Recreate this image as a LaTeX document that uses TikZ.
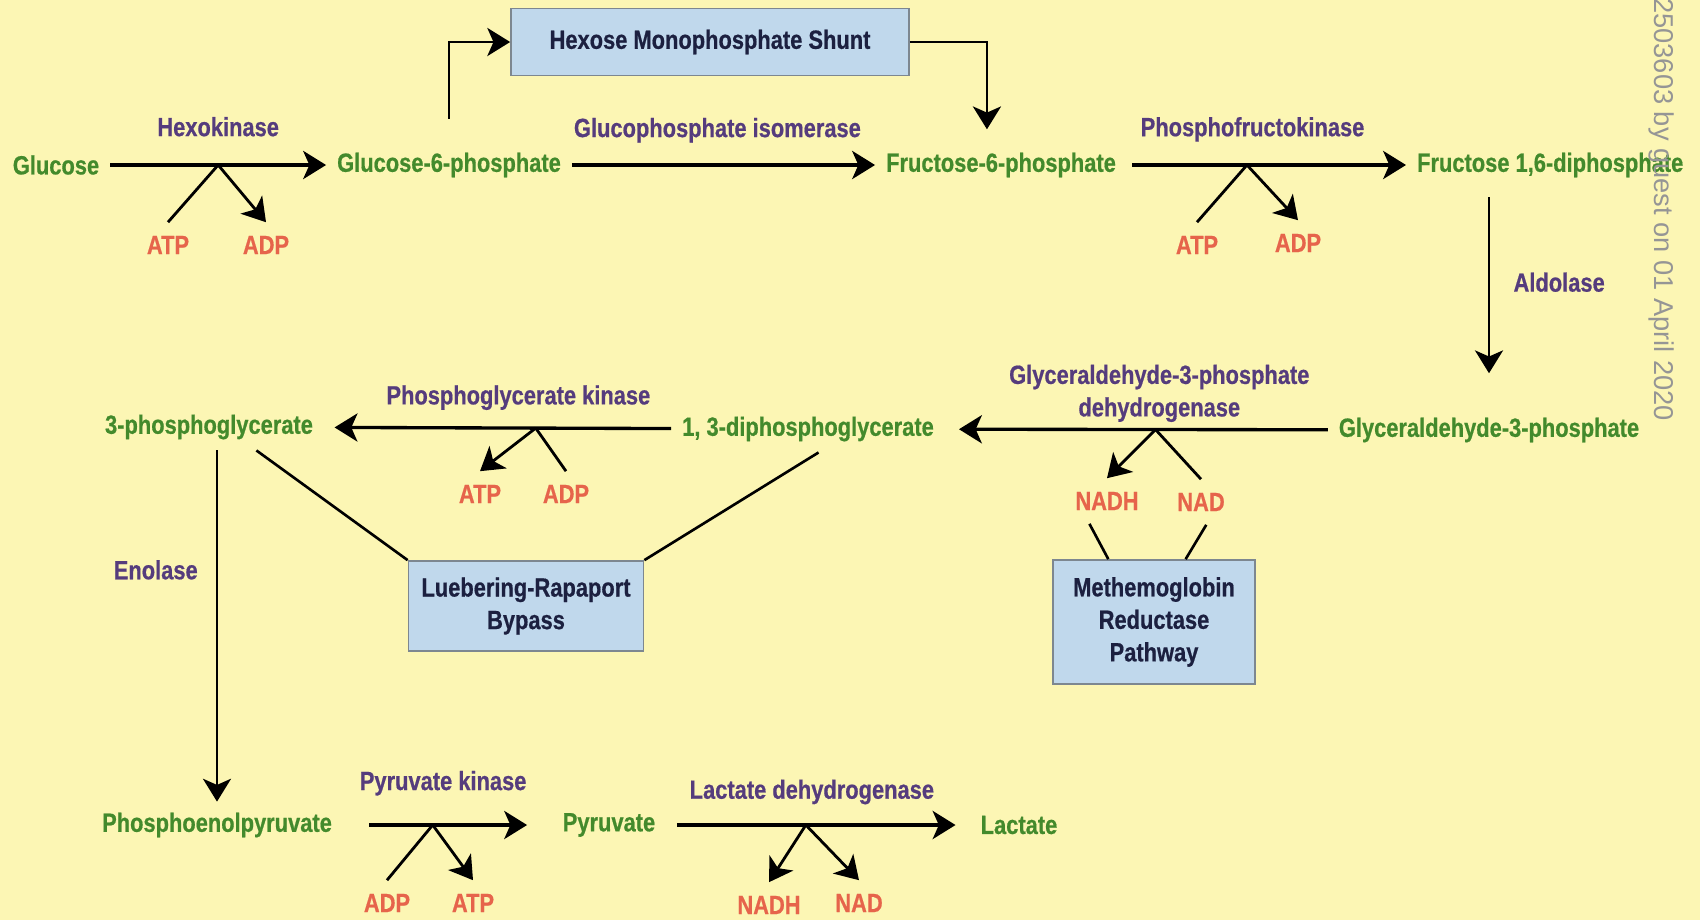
\documentclass[tikz,border=0pt]{standalone}
\usepackage{fontspec}
\setmainfont{Liberation Sans}[FakeStretch=0.83,BoldFeatures={FakeBold=0.6}]
\newfontfamily\stampfont{Liberation Sans}
\usepackage{xcolor}
\usetikzlibrary{arrows.meta}
\definecolor{paper}{HTML}{FCF6B4}
\definecolor{metgreen}{HTML}{438A2C}
\definecolor{enzpurple}{HTML}{553C7D}
\definecolor{cofred}{HTML}{E6644B}
\definecolor{boxblue}{HTML}{C0D8EC}
\definecolor{boxedge}{HTML}{7D8790}
\definecolor{boxtext}{HTML}{1C2040}
\definecolor{stampgray}{HTML}{959595}

\begin{document}
\begin{tikzpicture}[x=0.02cm,y=-0.02cm,>={Stealth[length=13pt,width=16pt,inset=3.5pt]},
	met/.style={text=metgreen,font=\fontsize{15}{18.5}\selectfont\bfseries,inner sep=3.33pt,outer sep=3pt},
	enz/.style={text=enzpurple,font=\fontsize{15}{18.5}\selectfont\bfseries,align=center},
	cof/.style={text=cofred,font=\fontsize{15}{18.5}\selectfont\bfseries,outer sep=4.5pt},
	pathbox/.style={draw=boxedge,line width=1pt,fill=boxblue,text=boxtext,align=center,font=\fontsize{15}{18.5}\selectfont\bfseries},
	rxn/.style={->,line width=1.9pt},
	side/.style={line width=1.6pt},
	vert/.style={line width=1.3pt},
	link/.style={line width=1.5pt},
	stamp/.style={text=stampgray,font=\stampfont\fontsize{15.5}{18}\selectfont,rotate=-90,anchor=west,inner sep=0pt}]
	\useasboundingbox (0,0) rectangle (1700,920);
	\fill[paper] (0,0) rectangle (1700,920);

	\node[met] (glc) at (56,165) {Glucose};
	\node[met] (g6p) at (449,165) {Glucose-6-phosphate};
	\node[met] (f6p) at (1001,165) {Fructose-6-phosphate};
	\node[met,anchor=west] (fdp) at (1406,165) {Fructose 1,6-diphosphate};
	\node[met] (g3p) at (1489,430) {Glyceraldehyde-3-phosphate};
	\node[met] (dpg) at (808,429) {1, 3-diphosphoglycerate};
	\node[met] (pg3) at (209,427) {3-phosphoglycerate};
	\node[met] (pep) at (217,825) {Phosphoenolpyruvate};
	\node[met] (pyr) at (609,825) {Pyruvate};
	\node[met] (lac) at (1019,825) {Lactate};

	\node[pathbox,minimum width=7.96cm,minimum height=1.34cm] (hms) at (710,42) {Hexose Monophosphate Shunt};
	\node[pathbox,minimum width=4.7cm,minimum height=1.8cm] (lrb) at (526,606) {Luebering-Rapaport\\Bypass};
	\node[pathbox,minimum width=4.04cm,minimum height=2.48cm] (mrp) at (1154,622) {Methemoglobin\\Reductase\\Pathway};

	\node[cof] (atp1) at (168,245) {ATP};
	\node[cof] (adp1) at (266,245) {ADP};
	\node[cof] (atp2) at (1197,245) {ATP};
	\node[cof] (adp2) at (1298,243) {ADP};
	\node[cof] (atp3) at (480,494) {ATP};
	\node[cof] (adp3) at (566,494) {ADP};
	\node[cof] (nadh1) at (1107,501) {NADH};
	\node[cof] (nad1) at (1201,502) {NAD};
	\node[cof] (adp4) at (387,903) {ADP};
	\node[cof] (atp4) at (473,903) {ATP};
	\node[cof] (nadh2) at (769,905) {NADH};
	\node[cof] (nad2) at (859,903) {NAD};

	\draw[rxn] (glc) -- node[enz,pos=0.5,above=12pt] {Hexokinase} coordinate[pos=0.5] (hkb) (g6p);
	\draw[rxn] (g6p) -- node[enz,pos=0.48,above=8.5pt] {Glucophosphate isomerase} (f6p);
	\draw[rxn,shorten <=3pt] (f6p) -- node[enz,pos=0.45,above=9pt] {Phosphofructokinase} coordinate[pos=0.43] (pfkb) (fdp);
	\draw[vert,->,shorten <=5pt,shorten >=19pt] (fdp.south -| g3p.north) -- node[enz,pos=0.43,right=10pt] {Aldolase} (g3p.north);
	\draw[rxn,shorten >=8pt] (g3p) -- node[enz,pos=0.44,above=0pt] {Glyceraldehyde-3-phosphate\\dehydrogenase} coordinate[pos=0.45] (gapb) (dpg);
	\draw[rxn,shorten >=6pt] (dpg) -- node[enz,pos=0.44,above=6pt] {Phosphoglycerate kinase} coordinate[pos=0.39] (pgkb) (pg3);
	\draw[vert,->] (pg3.south -| pep.north) -- node[enz,pos=0.34,left=7pt] {Enolase} (pep.north);
	\draw[rxn,shorten <=15pt,shorten >=14pt] (pep) -- node[enz,pos=0.48,above=12.5pt] {Pyruvate kinase} coordinate[pos=0.43] (pkb) (pyr);
	\draw[rxn,shorten <=6pt,shorten >=8pt] (pyr) -- node[enz,pos=0.48,above=7.5pt] {Lactate dehydrogenase} coordinate[pos=0.46] (ldhb) (lac);

	\draw[side] (atp1.north) -- (hkb);
	\draw[side,->] (hkb) -- (adp1.north);
	\draw[side] (atp2.north) -- (pfkb);
	\draw[side,->] (pfkb) -- (adp2.north);
	\draw[side,->] (gapb) -- (nadh1.north);
	\draw[side] (nad1.north) -- (gapb);
	\draw[side,->] (pgkb) -- (atp3.north);
	\draw[side] (adp3.north) -- (pgkb);
	\draw[side] (adp4.north) -- (pkb);
	\draw[side,->] (pkb) -- (atp4.north);
	\draw[side,->] (ldhb) -- (nadh2.north);
	\draw[side,->] (ldhb) -- (nad2.north);

	\draw[link,->,shorten <=13pt] (g6p.north) |- (hms.west);
	\draw[link,->,shorten >=7pt] (hms.east) -| ([xshift=-8pt]f6p.north);
	\draw[link] ([xshift=27pt]pg3.south) -- (lrb.north west);
	\draw[link] ([xshift=6pt]dpg.south) -- (lrb.north east);
	\draw[link] ([xshift=-10pt]nadh1.south) -- ([xshift=-26pt]mrp.north);
	\draw[link] ([xshift=3pt]nad1.south) -- ([xshift=18pt]mrp.north);

	\node[stamp] (wm) at (1662,-2) {2503603 by guest on 01 April 2020};
\end{tikzpicture}
\end{document}
